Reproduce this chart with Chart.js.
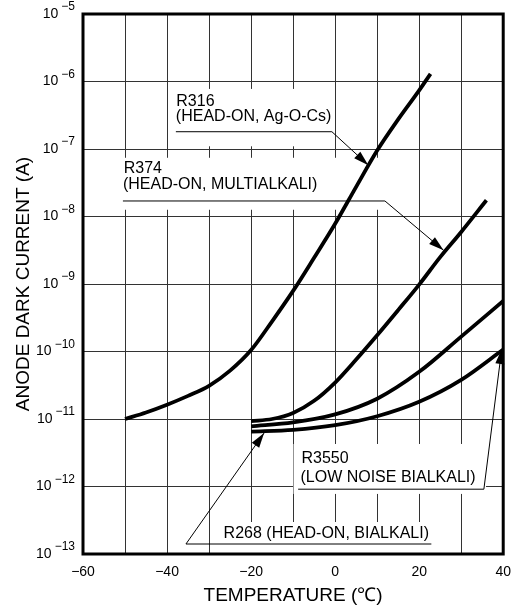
<!DOCTYPE html>
<html>
<head>
<script src="https://cdn.jsdelivr.net/npm/chart.js@4.4.0/dist/chart.umd.min.js"></script>
<style>
  body { margin: 0; background: #fff; }
  .wrap { position: relative; width: 521px; height: 607px; }
</style>
</head>
<body>
<div class="wrap"><canvas id="chart"></canvas></div>
<script>
const FONT = "'Liberation Sans', Arial, sans-serif";

// temperature (deg C) vs anode dark current (A)
const r316Temp = [-50, -45, -40, -35, -30, -25, -20, -15, -10, -5, 0, 5, 10, 15, 20, 22.7];
const r316Current = [1.0e-11, 1.25e-11, 1.63e-11, 2.2e-11, 3.1e-11, 5.2e-11, 1.05e-10, 2.8e-10,
                     7.9e-10, 2.45e-9, 7.8e-9, 2.75e-8, 9.5e-8, 2.75e-7, 7.4e-7, 1.3e-6];

const r374Temp = [-20, -15, -10, -5, 0, 5, 10, 15, 20, 25, 30, 36];
const r374Current = [9.3e-12, 1.0e-11, 1.23e-11, 1.86e-11, 3.47e-11, 7.6e-11, 1.74e-10,
                     4.1e-10, 9.8e-10, 2.5e-9, 5.9e-9, 1.74e-8];

const r268Temp = [-20, -10, 0, 10, 20, 30, 40];
const r268Current = [7.8e-12, 8.9e-12, 1.17e-11, 2.0e-11, 5.0e-11, 1.66e-10, 5.6e-10];

const r3550Temp = [-20, -10, 0, 10, 20, 30, 40];
const r3550Current = [6.5e-12, 6.9e-12, 8.1e-12, 1.1e-11, 1.8e-11, 3.8e-11, 1.07e-10];

const xTicks = [-60, -40, -20, 0, 20, 40];
const xTickLabels = ['−60', '−40', '−20', '0', '20', '40'];
const yTicks = [1e-13, 1e-12, 1e-11, 1e-10, 1e-9, 1e-8, 1e-7, 1e-6, 1e-5];
const yTickExponents = ['−13', '−12', '−11', '−10', '−9', '−8', '−7', '−6', '−5'];

// callouts, in data units: [temperature, log10(current)]
const notes = [
  { text: [['R316', -37.8, -6.37], ['(HEAD-ON, Ag-O-Cs)', -37.9, -6.585]],
    box: [-38.6, -1.2, -6.11, -6.96],
    leader: [[-37.9, -6.744], [-0.77, -6.744], [7.9, -7.24]] },
  { text: [['R374', -50.3, -7.36], ['(HEAD-ON, MULTIALKALI)', -50.5, -7.593]],
    box: [-51.2, 12.8, -7.13, -7.9],
    leader: [[-50.5, -7.77], [11.85, -7.77], [25.8, -8.5]] },
  { text: [['R3550', -8.0, -11.656], ['(LOW NOISE BIALKALI)', -8.25, -11.938]],
    box: [-9.9, 35.9, -11.37, -12.11],
    leader: [[-8.8, -12.04], [35.4, -12.04], [39.65, -9.963]] },
  { text: [['R268 (HEAD-ON, BIALKALI)', -26.54, -12.767]],
    box: [-29.3, 23.75, -12.526, -12.985],
    leader: [[22.9, -12.852], [-35.5, -12.852], [-16.9, -11.207]] }
];

function toPoints(ts, vs) {
  return ts.map((t, i) => ({ x: t, y: vs[i] }));
}

function curve(ts, vs) {
  return {
    data: toPoints(ts, vs),
    borderColor: '#000',
    borderWidth: 3.8,
    pointRadius: 0,
    cubicInterpolationMode: 'monotone',
    fill: false
  };
}

function arrowHead(ctx, x0, y0, x1, y1, len, half) {
  const a = Math.atan2(y1 - y0, x1 - x0);
  const bx = x1 - len * Math.cos(a), by = y1 - len * Math.sin(a);
  ctx.beginPath();
  ctx.moveTo(x1, y1);
  ctx.lineTo(bx + half * Math.sin(a), by - half * Math.cos(a));
  ctx.lineTo(bx - half * Math.sin(a), by + half * Math.cos(a));
  ctx.closePath();
  ctx.fill();
}

const calloutPlugin = {
  id: 'callouts',
  beforeDatasetsDraw(chart) {
    const { ctx, scales: { x, y } } = chart;
    const X = t => x.getPixelForValue(t);
    const Y = e => y.getPixelForValue(Math.pow(10, e));
    ctx.save();
    notes.forEach(n => {
      const [t0, t1, e0, e1] = n.box;
      ctx.fillStyle = '#fff';
      ctx.fillRect(X(t0), Y(e0), X(t1) - X(t0), Y(e1) - Y(e0));
    });
    notes.forEach(n => {
      ctx.fillStyle = '#000';
      ctx.font = '16px ' + FONT;
      ctx.textAlign = 'left';
      ctx.textBaseline = 'alphabetic';
      n.text.forEach(([s, t, e]) => ctx.fillText(s, X(t), Y(e)));
      const pts = n.leader.map(([t, e]) => [X(t), Y(e)]);
      ctx.strokeStyle = '#000';
      ctx.lineWidth = 1;
      ctx.beginPath();
      pts.forEach(([px, py], i) => i ? ctx.lineTo(px, py) : ctx.moveTo(px, py));
      ctx.stroke();
      const [a, b] = pts.slice(-2);
      arrowHead(ctx, a[0], a[1], b[0], b[1], 15, 4.5);
    });
    ctx.restore();
  },
  afterDatasetsDraw(chart) {
    const { ctx, chartArea: ca } = chart;
    ctx.save();
    ctx.strokeStyle = '#000';
    ctx.lineWidth = 3;
    ctx.strokeRect(ca.left, ca.top, ca.right - ca.left, ca.bottom - ca.top);
    ctx.restore();
  },
  afterDraw(chart) {
    const { ctx, scales: { y } } = chart;
    ctx.save();
    ctx.fillStyle = '#000';
    ctx.textAlign = 'right';
    yTicks.forEach((v, i) => {
      const py = y.getPixelForValue(v);
      ctx.font = '12px ' + FONT;
      ctx.textBaseline = 'middle';
      const exp = yTickExponents[i];
      const w = ctx.measureText(exp).width;
      ctx.fillText(exp, 75, py - 7);
      ctx.font = '14px ' + FONT;
      ctx.fillText('10', 75 - w - 3, py);
    });
    ctx.restore();
  }
};

new Chart(document.getElementById('chart'), {
  type: 'line',
  data: {
    datasets: [
      curve(r316Temp, r316Current),
      curve(r374Temp, r374Current),
      curve(r268Temp, r268Current),
      curve(r3550Temp, r3550Current)
    ]
  },
  options: {
    responsive: true,
    maintainAspectRatio: false,
    animation: false,
    layout: { padding: { top: 14, right: 9, bottom: 0, left: 0 } },
    plugins: { legend: { display: false }, tooltip: { enabled: false } },
    scales: {
      x: {
        type: 'linear',
        min: -60,
        max: 40,
        afterFit: s => { s.height = 53; },
        ticks: {
          stepSize: 10,
          autoSkip: false,
          maxRotation: 0,
          padding: 10,
          color: '#000',
          font: { family: FONT, size: 14 },
          callback: v => {
            const i = xTicks.indexOf(v);
            return i < 0 ? '' : xTickLabels[i];
          }
        },
        grid: { color: '#333', lineWidth: 1, drawTicks: false },
        border: { display: false },
        title: {
          display: true,
          text: 'TEMPERATURE (℃)',
          color: '#000',
          font: { family: FONT, size: 19 },
          padding: { top: 0, bottom: 0 }
        }
      },
      y: {
        type: 'logarithmic',
        min: 1e-13,
        max: 1e-5,
        afterBuildTicks: s => { s.ticks = yTicks.map(v => ({ value: v })); },
        afterFit: s => { s.width = 83; },
        ticks: { display: false },
        grid: { color: '#333', lineWidth: 1, drawTicks: false },
        border: { display: false },
        title: {
          display: true,
          text: 'ANODE DARK CURRENT (A)',
          color: '#000',
          font: { family: FONT, size: 19 },
          padding: { top: 12, bottom: 0 }
        }
      }
    }
  },
  plugins: [calloutPlugin]
});
</script>
</body>
</html>
